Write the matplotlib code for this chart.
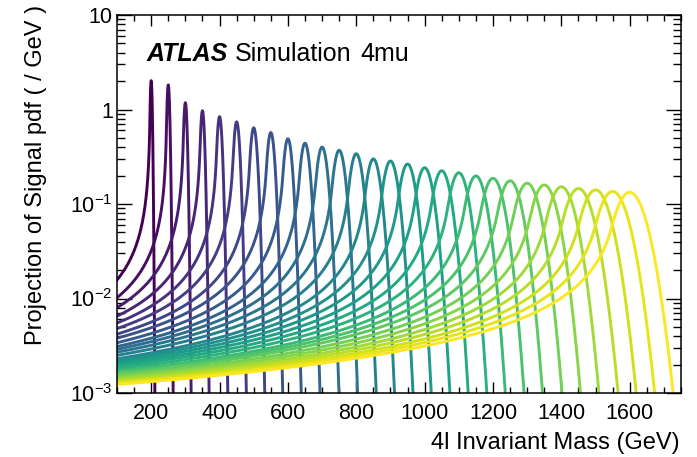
import numpy as np
import matplotlib
matplotlib.use("Agg")
import matplotlib.pyplot as plt
from matplotlib.ticker import MultipleLocator, FixedLocator, FixedFormatter, LogLocator, NullFormatter

plt.rcParams["font.family"] = ["Liberation Sans", "DejaVu Sans"]
plt.rcParams["mathtext.fontset"] = "custom"
plt.rcParams["mathtext.rm"] = "Liberation Sans"
plt.rcParams["mathtext.it"] = "Liberation Sans:italic"

# signal mass points (GeV)
masses = [200, 250, 300, 350, 400, 450, 500, 550, 600, 650, 700, 750, 800, 850,
          900, 950, 1000, 1050, 1100, 1150, 1200, 1250, 1300, 1350, 1400, 1450,
          1500, 1550, 1600]
# peak height of each pdf (/GeV)
peak_height = [2.02, 1.82, 1.18, 0.97, 0.84, 0.74, 0.64, 0.57, 0.49, 0.44, 0.40,
               0.37, 0.34, 0.30, 0.285, 0.265, 0.242, 0.225, 0.214, 0.198, 0.187,
               0.176, 0.166, 0.159, 0.152, 0.146, 0.141, 0.136, 0.133]
# pdf value at the left edge (m4l = 100 GeV)
left_edge = [0.0157, 0.0102, 0.0080, 0.0065, 0.0055, 0.0048, 0.0042, 0.0038,
             0.0034, 0.0031, 0.0029, 0.0027, 0.0025, 0.0023, 0.0022, 0.0021,
             0.0020, 0.0019, 0.0018, 0.0017, 0.00165, 0.0016, 0.00152, 0.00146,
             0.0014, 0.00135, 0.0013, 0.00127, 0.00123]
# mass where the high side falls to 1e-3
right_cross = [210.8, 264.3, 316.9, 369.5, 424.2, 478.5, 532.3, 584.9, 639, 694,
               749.5, 804, 858.5, 912, 966, 1019.5, 1074, 1127.5, 1182, 1236,
               1291, 1345, 1402, 1456, 1510, 1566, 1619, 1673, 1727]

x_min, x_max = 100, 1750


def signal_pdf(x, m, peak, v_left, x_cross):
    # crystal ball shape: gaussian core, power-law (n=1) tail on the low side
    sigma = (x_cross - m) / np.sqrt(2 * np.log(peak / 1e-3))
    # pick the tail start so the curve hits v_left at the left edge
    T = (m - x_min) / sigma
    alphas = np.linspace(0.3, 3.0, 20000)
    f = np.exp(-0.5 * alphas ** 2) / (1 - alphas ** 2 + alphas * T)
    a = alphas[np.argmin(np.abs(f - v_left / peak))]
    t = (x - m) / sigma
    y = peak * np.exp(-0.5 * t ** 2)
    tail = t < -a
    A = np.exp(-0.5 * a ** 2) / a
    B = 1 / a - a
    y[tail] = peak * A / (B - t[tail])
    return y


fig = plt.figure(figsize=(6.97, 4.57), dpi=100)
ax = fig.add_axes([117 / 697, 1 - 393 / 457, 564 / 697, 378 / 457])

x = np.linspace(x_min, x_max, 30000)
colors = plt.cm.viridis(np.linspace(0, 1, len(masses)))
for m, pk, vl, xc, c in zip(masses, peak_height, left_edge, right_cross, colors):
    ax.plot(x, signal_pdf(x, m, pk, vl, xc), color=c, lw=2.1)

ax.set_yscale("log")
ax.set_xlim(x_min, x_max)
ax.set_ylim(1e-3, 10)

ax.xaxis.set_major_locator(MultipleLocator(200))
ax.xaxis.set_minor_locator(MultipleLocator(50))
ax.yaxis.set_major_locator(FixedLocator([1e-3, 1e-2, 1e-1, 1, 10]))
ax.yaxis.set_major_formatter(FixedFormatter(["$10^{-3}$", "$10^{-2}$", "$10^{-1}$", "1", "10"]))
ax.yaxis.set_minor_locator(LogLocator(base=10, subs=np.arange(2, 10)))
ax.yaxis.set_minor_formatter(NullFormatter())

ax.tick_params(which="both", direction="in", top=True, right=True, labelsize=15.5, width=1)
ax.tick_params(axis="x", which="major", length=8, pad=7)
ax.tick_params(axis="x", which="minor", length=4)
ax.tick_params(axis="y", which="major", length=11, pad=3)
ax.tick_params(axis="y", which="minor", length=5.5)
for sp in ax.spines.values():
    sp.set_linewidth(1.1)

ax.text(0.053, 0.878, "ATLAS", transform=ax.transAxes, fontsize=18,
        fontweight="bold", fontstyle="italic", va="baseline")
ax.text(0.209, 0.878, "Simulation", transform=ax.transAxes, fontsize=18, va="baseline")
ax.text(0.431, 0.878, "4mu", transform=ax.transAxes, fontsize=18, va="baseline")

fig.text(680 / 697, 1 - 449 / 457, "4l Invariant Mass (GeV)", fontsize=17,
         ha="right", va="baseline")
fig.text(36 / 697, 1 - 5 / 457, "Projection of Signal pdf ( / GeV )", fontsize=17,
         rotation=90, ha="center", va="top")

fig.savefig("out.png", dpi=100)
